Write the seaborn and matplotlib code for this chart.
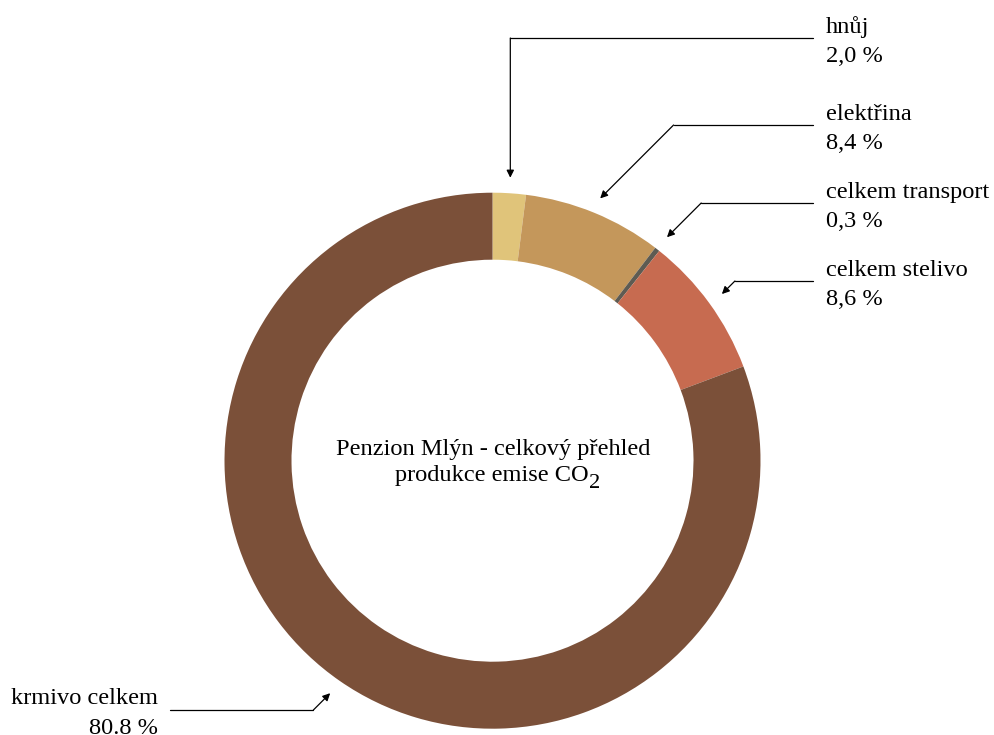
import numpy as np
import matplotlib
matplotlib.use("Agg")
import matplotlib.pyplot as plt
import seaborn as sns

# ---- data ----
categories = ["hnůj", "elektřina", "celkem transport", "celkem stelivo", "krmivo celkem"]
values = [2.0, 8.4, 0.3, 8.6, 80.8]
value_labels = ["2,0 %", "8,4 %", "0,3 %", "8,6 %", "80.8 %"]
colors = ["#E0C47A", "#C4975B", "#5E5B52", "#C76B50", "#7B5039"]
title_line1 = "Penzion Mlýn - celkový přehled"
title_line2 = "produkce emise CO"
title_sub = "2"

sns.set_theme(style="white")
plt.rcParams["font.family"] = ["Liberation Serif", "DejaVu Serif"]

W, H = 995, 735
FS = 17.6
fig = plt.figure(figsize=(W / 100, H / 100), dpi=100)
ax = fig.add_axes([0, 0, 1, 1])

cx, cy = 492.5, H - 460.7
R = 268.0
ring = 67.0

wedges, _ = ax.pie(values, colors=colors, startangle=90, counterclock=False,
                   center=(cx, cy), radius=R, frame=True,
                   wedgeprops=dict(width=ring, edgecolor="none", linewidth=0))
ax.set_xlim(0, W)
ax.set_ylim(0, H)
ax.axis("off")

# center title (baseline positioned)
ax.text(cx + 1, H - 455, title_line1, ha="center", va="baseline", fontsize=FS, color="black")
t2 = ax.text(cx - 0.5, H - 481, title_line2, ha="center", va="baseline", fontsize=FS, color="black")
fig.canvas.draw()
bb = t2.get_window_extent(renderer=fig.canvas.get_renderer())
ax.text(bb.x1 + 0.5, H - 488, title_sub, ha="left", va="baseline", fontsize=FS * 0.92, color="black")

# label layout: connector line y (px from top) and style
label_y = [38, 125, 203, 281, 710]
styles = ["vertical", "diag", "diag", "diag", "diag_left"]
text_x_right = 826
line_end_right = 813

cum = np.cumsum([0] + values[:-1])
r_tip = R * 1.058
for i, (cat, v) in enumerate(zip(categories, values)):
    mid_frac = (cum[i] + v / 2) / 100.0
    ang = np.deg2rad(90 - 360 * mid_frac)
    tx, ty = cx + r_tip * np.cos(ang), cy + r_tip * np.sin(ang)
    ly = H - label_y[i]
    if styles[i] == "vertical":
        ex, ey = tx, ly
        ax.plot([line_end_right, ex], [ly, ly], color="black", lw=0.9)
    elif styles[i] == "diag":
        ex, ey = tx + (ly - ty), ly
        ax.plot([line_end_right, ex], [ly, ly], color="black", lw=0.9)
    else:
        ex, ey = tx - (ty - ly), ly
        ax.plot([170, ex], [ly, ly], color="black", lw=0.9)
    ax.annotate("", xy=(tx, ty), xytext=(ex, ey),
                arrowprops=dict(arrowstyle="-|>", color="black", lw=0.9,
                                mutation_scale=11, shrinkA=0, shrinkB=0))
    b1 = ly + 5.5
    b2 = b1 - 29.5
    if styles[i] == "diag_left":
        ax.text(158, b1, cat, ha="right", va="baseline", fontsize=FS, color="black")
        ax.text(158, b2, value_labels[i], ha="right", va="baseline", fontsize=FS, color="black")
    else:
        ax.text(text_x_right, b1, cat, ha="left", va="baseline", fontsize=FS, color="black")
        ax.text(text_x_right, b2, value_labels[i], ha="left", va="baseline", fontsize=FS, color="black")

fig.savefig("out.png", dpi=100, facecolor="white")
